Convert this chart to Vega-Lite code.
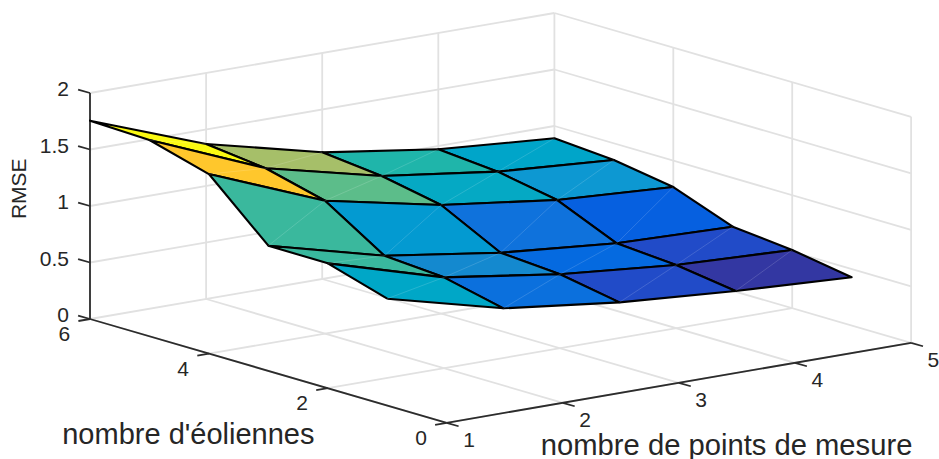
{"$schema":"https://vega.github.io/schema/vega-lite/v6.json","width":939,"height":459,"padding":0,"autosize":{"type":"none"},"background":"white","config":{"view":{"stroke":null},"text":{"font":"Liberation Sans","fill":"#262626"}},
"datasets":{
"grid":[
{"id":"f1","x":1,"y":0,"z":0},{"id":"f1","x":1,"y":6,"z":0},
{"id":"f2","x":2,"y":0,"z":0},{"id":"f2","x":2,"y":6,"z":0},
{"id":"f3","x":3,"y":0,"z":0},{"id":"f3","x":3,"y":6,"z":0},
{"id":"f4","x":4,"y":0,"z":0},{"id":"f4","x":4,"y":6,"z":0},
{"id":"f5","x":5,"y":0,"z":0},{"id":"f5","x":5,"y":6,"z":0},
{"id":"g0","x":1,"y":0,"z":0},{"id":"g0","x":5,"y":0,"z":0},
{"id":"g2","x":1,"y":2,"z":0},{"id":"g2","x":5,"y":2,"z":0},
{"id":"g4","x":1,"y":4,"z":0},{"id":"g4","x":5,"y":4,"z":0},
{"id":"g6","x":1,"y":6,"z":0},{"id":"g6","x":5,"y":6,"z":0},
{"id":"a1","x":1,"y":6,"z":0},{"id":"a1","x":1,"y":6,"z":2},
{"id":"a2","x":2,"y":6,"z":0},{"id":"a2","x":2,"y":6,"z":2},
{"id":"a3","x":3,"y":6,"z":0},{"id":"a3","x":3,"y":6,"z":2},
{"id":"a4","x":4,"y":6,"z":0},{"id":"a4","x":4,"y":6,"z":2},
{"id":"a5","x":5,"y":6,"z":0},{"id":"a5","x":5,"y":6,"z":2},
{"id":"b4","x":5,"y":4,"z":0},{"id":"b4","x":5,"y":4,"z":2},
{"id":"b2","x":5,"y":2,"z":0},{"id":"b2","x":5,"y":2,"z":2},
{"id":"b0","x":5,"y":0,"z":0},{"id":"b0","x":5,"y":0,"z":2},
{"id":"c05","x":1,"y":6,"z":0.5},{"id":"c05","x":5,"y":6,"z":0.5},
{"id":"c10","x":1,"y":6,"z":1},{"id":"c10","x":5,"y":6,"z":1},
{"id":"c15","x":1,"y":6,"z":1.5},{"id":"c15","x":5,"y":6,"z":1.5},
{"id":"c20","x":1,"y":6,"z":2},{"id":"c20","x":5,"y":6,"z":2},
{"id":"d05","x":5,"y":0,"z":0.5},{"id":"d05","x":5,"y":6,"z":0.5},
{"id":"d10","x":5,"y":0,"z":1},{"id":"d10","x":5,"y":6,"z":1},
{"id":"d15","x":5,"y":0,"z":1.5},{"id":"d15","x":5,"y":6,"z":1.5},
{"id":"d20","x":5,"y":0,"z":2},{"id":"d20","x":5,"y":6,"z":2}
],
"axes":[
{"id":"zaxis","x":1,"y":6,"z":0},{"id":"zaxis","x":1,"y":6,"z":2},
{"id":"yaxis","x":1,"y":6,"z":0},{"id":"yaxis","x":1,"y":0,"z":0},
{"id":"xaxis","x":1,"y":0,"z":0},{"id":"xaxis","x":5,"y":0,"z":0},
{"id":"tx1","x":1,"y":0,"z":0},{"id":"tx1","x":1,"y":-0.2,"z":0},
{"id":"tx2","x":2,"y":0,"z":0},{"id":"tx2","x":2,"y":-0.2,"z":0},
{"id":"tx3","x":3,"y":0,"z":0},{"id":"tx3","x":3,"y":-0.2,"z":0},
{"id":"tx4","x":4,"y":0,"z":0},{"id":"tx4","x":4,"y":-0.2,"z":0},
{"id":"tx5","x":5,"y":0,"z":0},{"id":"tx5","x":5,"y":-0.2,"z":0},
{"id":"ty0","x":1,"y":0,"z":0},{"id":"ty0","x":0.9,"y":0,"z":0},
{"id":"ty2","x":1,"y":2,"z":0},{"id":"ty2","x":0.9,"y":2,"z":0},
{"id":"ty4","x":1,"y":4,"z":0},{"id":"ty4","x":0.9,"y":4,"z":0},
{"id":"ty6","x":1,"y":6,"z":0},{"id":"ty6","x":0.9,"y":6,"z":0},
{"id":"tz00","x":1,"y":6,"z":0},{"id":"tz00","x":1,"y":6.2,"z":0},
{"id":"tz05","x":1,"y":6,"z":0.5},{"id":"tz05","x":1,"y":6.2,"z":0.5},
{"id":"tz10","x":1,"y":6,"z":1},{"id":"tz10","x":1,"y":6.2,"z":1},
{"id":"tz15","x":1,"y":6,"z":1.5},{"id":"tz15","x":1,"y":6.2,"z":1.5},
{"id":"tz20","x":1,"y":6,"z":2},{"id":"tz20","x":1,"y":6.2,"z":2}
],
"surface":[
{"c":"x4y5","o":0,"x":4,"y":5,"z":0.926},{"c":"x4y5","o":1,"x":5,"y":5,"z":0.852},{"c":"x4y5","o":2,"x":5,"y":6,"z":0.891},{"c":"x4y5","o":3,"x":4,"y":6,"z":0.971},{"c":"x4y5","o":4,"x":4,"y":5,"z":0.926},
{"c":"x3y5","o":0,"x":3,"y":5,"z":1.065},{"c":"x3y5","o":1,"x":4,"y":5,"z":0.926},{"c":"x3y5","o":2,"x":4,"y":6,"z":0.971},{"c":"x3y5","o":3,"x":3,"y":6,"z":1.121},{"c":"x3y5","o":4,"x":3,"y":5,"z":1.065},
{"c":"x2y5","o":0,"x":2,"y":5,"z":1.31},{"c":"x2y5","o":1,"x":3,"y":5,"z":1.065},{"c":"x2y5","o":2,"x":3,"y":6,"z":1.121},{"c":"x2y5","o":3,"x":2,"y":6,"z":1.372},{"c":"x2y5","o":4,"x":2,"y":5,"z":1.31},
{"c":"x1y5","o":0,"x":1,"y":5,"z":1.737},{"c":"x1y5","o":1,"x":2,"y":5,"z":1.31},{"c":"x1y5","o":2,"x":2,"y":6,"z":1.372},{"c":"x1y5","o":3,"x":1,"y":6,"z":1.755},{"c":"x1y5","o":4,"x":1,"y":5,"z":1.737},
{"c":"x4y4","o":0,"x":4,"y":4,"z":0.828},{"c":"x4y4","o":1,"x":5,"y":4,"z":0.766},{"c":"x4y4","o":2,"x":5,"y":5,"z":0.852},{"c":"x4y4","o":3,"x":4,"y":5,"z":0.926},{"c":"x4y4","o":4,"x":4,"y":4,"z":0.828},
{"c":"x3y4","o":0,"x":3,"y":4,"z":0.961},{"c":"x3y4","o":1,"x":4,"y":4,"z":0.828},{"c":"x3y4","o":2,"x":4,"y":5,"z":0.926},{"c":"x3y4","o":3,"x":3,"y":5,"z":1.065},{"c":"x3y4","o":4,"x":3,"y":4,"z":0.961},
{"c":"x2y4","o":0,"x":2,"y":4,"z":1.176},{"c":"x2y4","o":1,"x":3,"y":4,"z":0.961},{"c":"x2y4","o":2,"x":3,"y":5,"z":1.065},{"c":"x2y4","o":3,"x":2,"y":5,"z":1.31},{"c":"x2y4","o":4,"x":2,"y":4,"z":1.176},
{"c":"x1y4","o":0,"x":1,"y":4,"z":1.589},{"c":"x1y4","o":1,"x":2,"y":4,"z":1.176},{"c":"x1y4","o":2,"x":2,"y":5,"z":1.31},{"c":"x1y4","o":3,"x":1,"y":5,"z":1.737},{"c":"x1y4","o":4,"x":1,"y":4,"z":1.589},
{"c":"x4y3","o":0,"x":4,"y":3,"z":0.598},{"c":"x4y3","o":1,"x":5,"y":3,"z":0.568},{"c":"x4y3","o":2,"x":5,"y":4,"z":0.766},{"c":"x4y3","o":3,"x":4,"y":4,"z":0.828},{"c":"x4y3","o":4,"x":4,"y":3,"z":0.598},
{"c":"x3y3","o":0,"x":3,"y":3,"z":0.692},{"c":"x3y3","o":1,"x":4,"y":3,"z":0.598},{"c":"x3y3","o":2,"x":4,"y":4,"z":0.828},{"c":"x3y3","o":3,"x":3,"y":4,"z":0.961},{"c":"x3y3","o":4,"x":3,"y":3,"z":0.692},
{"c":"x2y3","o":0,"x":2,"y":3,"z":0.842},{"c":"x2y3","o":1,"x":3,"y":3,"z":0.692},{"c":"x2y3","o":2,"x":3,"y":4,"z":0.961},{"c":"x2y3","o":3,"x":2,"y":4,"z":1.176},{"c":"x2y3","o":4,"x":2,"y":3,"z":0.842},
{"c":"x1y3","o":0,"x":1,"y":3,"z":1.108},{"c":"x1y3","o":1,"x":2,"y":3,"z":0.842},{"c":"x1y3","o":2,"x":2,"y":4,"z":1.176},{"c":"x1y3","o":3,"x":1,"y":4,"z":1.589},{"c":"x1y3","o":4,"x":1,"y":3,"z":1.108},
{"c":"x4y2","o":0,"x":4,"y":2,"z":0.559},{"c":"x4y2","o":1,"x":5,"y":2,"z":0.515},{"c":"x4y2","o":2,"x":5,"y":3,"z":0.568},{"c":"x4y2","o":3,"x":4,"y":3,"z":0.598},{"c":"x4y2","o":4,"x":4,"y":2,"z":0.559},
{"c":"x3y2","o":0,"x":3,"y":2,"z":0.654},{"c":"x3y2","o":1,"x":4,"y":2,"z":0.559},{"c":"x3y2","o":2,"x":4,"y":3,"z":0.598},{"c":"x3y2","o":3,"x":3,"y":3,"z":0.692},{"c":"x3y2","o":4,"x":3,"y":2,"z":0.654},
{"c":"x2y2","o":0,"x":2,"y":2,"z":0.804},{"c":"x2y2","o":1,"x":3,"y":2,"z":0.654},{"c":"x2y2","o":2,"x":3,"y":3,"z":0.692},{"c":"x2y2","o":3,"x":2,"y":3,"z":0.842},{"c":"x2y2","o":4,"x":2,"y":2,"z":0.804},
{"c":"x1y2","o":0,"x":1,"y":2,"z":1.105},{"c":"x1y2","o":1,"x":2,"y":2,"z":0.804},{"c":"x1y2","o":2,"x":2,"y":3,"z":0.842},{"c":"x1y2","o":3,"x":1,"y":3,"z":1.108},{"c":"x1y2","o":4,"x":1,"y":2,"z":1.105},
{"c":"x4y1","o":0,"x":4,"y":1,"z":0.482},{"c":"x4y1","o":1,"x":5,"y":1,"z":0.427},{"c":"x4y1","o":2,"x":5,"y":2,"z":0.515},{"c":"x4y1","o":3,"x":4,"y":2,"z":0.559},{"c":"x4y1","o":4,"x":4,"y":1,"z":0.482},
{"c":"x3y1","o":0,"x":3,"y":1,"z":0.559},{"c":"x3y1","o":1,"x":4,"y":1,"z":0.482},{"c":"x3y1","o":2,"x":4,"y":2,"z":0.559},{"c":"x3y1","o":3,"x":3,"y":2,"z":0.654},{"c":"x3y1","o":4,"x":3,"y":1,"z":0.559},
{"c":"x2y1","o":0,"x":2,"y":1,"z":0.683},{"c":"x2y1","o":1,"x":3,"y":1,"z":0.559},{"c":"x2y1","o":2,"x":3,"y":2,"z":0.654},{"c":"x2y1","o":3,"x":2,"y":2,"z":0.804},{"c":"x2y1","o":4,"x":2,"y":1,"z":0.683},
{"c":"x1y1","o":0,"x":1,"y":1,"z":0.945},{"c":"x1y1","o":1,"x":2,"y":1,"z":0.683},{"c":"x1y1","o":2,"x":2,"y":2,"z":0.804},{"c":"x1y1","o":3,"x":1,"y":2,"z":1.105},{"c":"x1y1","o":4,"x":1,"y":1,"z":0.945}
],
"xticks":[{"label":"1","x":1,"y":0,"z":0},{"label":"2","x":2,"y":0,"z":0},{"label":"3","x":3,"y":0,"z":0},{"label":"4","x":4,"y":0,"z":0},{"label":"5","x":5,"y":0,"z":0}],
"yticks":[{"label":"0","x":1,"y":0,"z":0},{"label":"2","x":1,"y":2,"z":0},{"label":"4","x":1,"y":4,"z":0},{"label":"6","x":1,"y":6,"z":0}],
"zticks":[{"label":"0","x":1,"y":6,"z":0},{"label":"0.5","x":1,"y":6,"z":0.5},{"label":"1","x":1,"y":6,"z":1},{"label":"1.5","x":1,"y":6,"z":1.5},{"label":"2","x":1,"y":6,"z":2}],
"xtitle":[{"label":"nombre de points de mesure","x":3,"y":0,"z":0}],
"ytitle":[{"label":"nombre d'éoliennes","x":1,"y":3,"z":0}],
"ztitle":[{"label":"RMSE","x":1,"y":6,"z":1}]
},
"encoding":{
"x":{"field":"u","type":"quantitative","axis":null,"scale":{"domain":[-90,849],"nice":false,"zero":false}},
"y":{"field":"v","type":"quantitative","axis":null,"scale":{"domain":[-140,319],"nice":false,"zero":false}}
},
"layer":[
{"data":{"name":"grid"},"transform":[{"calculate":"116.1*(datum.x-1)+59.45*(6-datum.y)","as":"u"},{"calculate":"113*datum.z+20*(datum.x-1)-17.3*(6-datum.y)","as":"v"}],"mark":{"type":"line","stroke":"#e1e1e1","strokeWidth":1.8},"encoding":{"detail":{"field":"id"}}},
{"data":{"name":"axes"},"transform":[{"calculate":"116.1*(datum.x-1)+59.45*(6-datum.y)","as":"u"},{"calculate":"113*datum.z+20*(datum.x-1)-17.3*(6-datum.y)","as":"v"}],"mark":{"type":"line","stroke":"#2c2c2c","strokeWidth":1.8},"encoding":{"detail":{"field":"id"}}},
{"data":{"name":"surface"},"transform":[{"calculate":"116.1*(datum.x-1)+59.45*(6-datum.y)","as":"u"},{"calculate":"113*datum.z+20*(datum.x-1)-17.3*(6-datum.y)","as":"v"},{"window":[{"op":"first_value","field":"z","as":"zc"}],"groupby":["c"],"sort":[{"field":"o","order":"ascending"}]}],"mark":{"type":"line","stroke":"#000000","strokeWidth":2.1,"strokeJoin":"round"},"encoding":{"detail":{"field":"c"},"order":{"field":"o","type":"quantitative"},
"fill":{"field":"zc","type":"quantitative","legend":null,"scale":{"domain":[0.427,0.56,0.598,0.654,0.693,0.804,0.828,0.958,1.104,1.176,1.31,1.589,1.737,1.755],"range":["#352a87","#204bc9","#0660e0","#056ae0","#0f72dc","#1489cf","#0d98d2","#08a9c5","#38b89e","#5cbd8a","#a6bf69","#ffc72c","#fbfa12","#f9fb0e"]}}}},
{"data":{"name":"surface"},"transform":[{"filter":"datum.o==0||datum.o==2"},{"calculate":"116.1*(datum.x-1)+59.45*(6-datum.y)","as":"u"},{"calculate":"113*datum.z+20*(datum.x-1)-17.3*(6-datum.y)","as":"v"}],"mark":{"type":"line","stroke":"#ffffff","strokeWidth":0.6,"opacity":0.25},"encoding":{"detail":{"field":"c"}}},
{"data":{"name":"xticks"},"transform":[{"calculate":"116.1*(datum.x-1)+59.45*(6-datum.y)","as":"u"},{"calculate":"113*datum.z+20*(datum.x-1)-17.3*(6-datum.y)","as":"v"}],"mark":{"type":"text","fontSize":21,"dx":22.3,"dy":18,"align":"center","baseline":"middle"},"encoding":{"text":{"field":"label"}}},
{"data":{"name":"yticks"},"transform":[{"calculate":"116.1*(datum.x-1)+59.45*(6-datum.y)","as":"u"},{"calculate":"113*datum.z+20*(datum.x-1)-17.3*(6-datum.y)","as":"v"}],"mark":{"type":"text","fontSize":21,"dx":-25.7,"dy":16,"align":"center","baseline":"middle"},"encoding":{"text":{"field":"label"}}},
{"data":{"name":"zticks"},"transform":[{"calculate":"116.1*(datum.x-1)+59.45*(6-datum.y)","as":"u"},{"calculate":"113*datum.z+20*(datum.x-1)-17.3*(6-datum.y)","as":"v"}],"mark":{"type":"text","fontSize":21,"dx":-21,"dy":-3,"align":"right","baseline":"middle"},"encoding":{"text":{"field":"label"}}},
{"data":{"name":"xtitle"},"transform":[{"calculate":"116.1*(datum.x-1)+59.45*(6-datum.y)","as":"u"},{"calculate":"113*datum.z+20*(datum.x-1)-17.3*(6-datum.y)","as":"v"}],"mark":{"type":"text","fontSize":29.2,"dx":47.7,"dy":72,"align":"center","baseline":"alphabetic"},"encoding":{"text":{"field":"label"}}},
{"data":{"name":"ytitle"},"transform":[{"calculate":"116.1*(datum.x-1)+59.45*(6-datum.y)","as":"u"},{"calculate":"113*datum.z+20*(datum.x-1)-17.3*(6-datum.y)","as":"v"}],"mark":{"type":"text","fontSize":29,"dx":-80,"dy":73,"align":"center","baseline":"alphabetic"},"encoding":{"text":{"field":"label"}}},
{"data":{"name":"ztitle"},"transform":[{"calculate":"116.1*(datum.x-1)+59.45*(6-datum.y)","as":"u"},{"calculate":"113*datum.z+20*(datum.x-1)-17.3*(6-datum.y)","as":"v"}],"mark":{"type":"text","fontSize":21,"angle":270,"dx":17.3,"dy":-70,"align":"center","baseline":"middle"},"encoding":{"text":{"field":"label"}}}
]
}
